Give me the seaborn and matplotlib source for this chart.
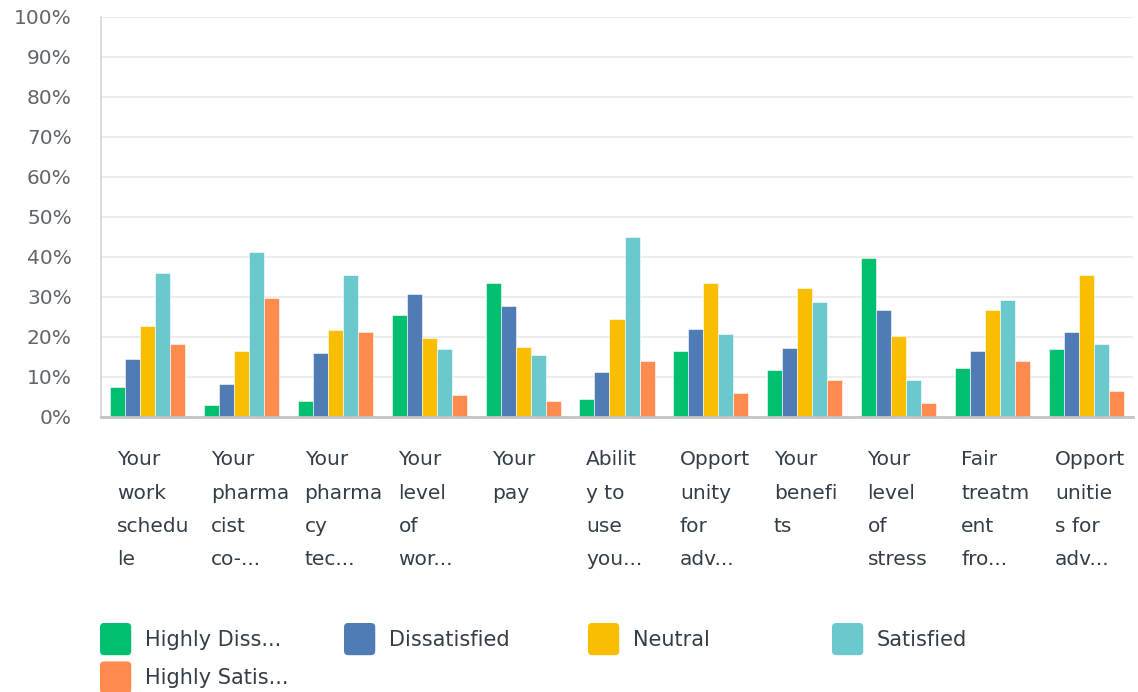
import numpy as np
import pandas as pd
import matplotlib
matplotlib.use("Agg")
import matplotlib.pyplot as plt
import matplotlib.patches as mpatches
from matplotlib.legend_handler import HandlerPatch
from matplotlib.ticker import PercentFormatter
import seaborn as sns

# данные (проценты)
questions = [
    "Your work schedule", "Your pharmacist co-workers", "Your pharmacy technicians",
    "Your level of workload", "Your pay", "Ability to use your skills",
    "Opportunity for advancement", "Your benefits", "Your level of stress",
    "Fair treatment from management", "Opportunities for advancement training",
]
tick_labels = [
    "Your\nwork\nschedu\nle", "Your\npharma\ncist\nco-...", "Your\npharma\ncy\ntec...",
    "Your\nlevel\nof\nwor...", "Your\npay", "Abilit\ny to\nuse\nyou...",
    "Opport\nunity\nfor\nadv...", "Your\nbenefi\nts", "Your\nlevel\nof\nstress",
    "Fair\ntreatm\nent\nfro...", "Opport\nunitie\ns for\nadv...",
]
levels = ["Highly Diss...", "Dissatisfied", "Neutral", "Satisfied", "Highly Satis..."]
colors = ["#00BF6F", "#507CB6", "#F9BE00", "#6BC8CD", "#FF8B4F"]

highly_dissatisfied = [7.6, 2.9, 3.9, 25.5, 33.4, 4.4, 16.6, 11.8, 39.8, 12.3, 17.1]
dissatisfied = [14.4, 8.3, 16.0, 30.8, 27.7, 11.3, 21.9, 17.2, 26.7, 16.6, 21.3]
neutral = [22.8, 16.6, 21.8, 19.8, 17.6, 24.5, 33.4, 32.3, 20.3, 26.7, 35.5]
satisfied = [36.1, 41.3, 35.5, 17.1, 15.5, 45.0, 20.8, 28.7, 9.2, 29.2, 18.2]
highly_satisfied = [18.2, 29.7, 21.3, 5.6, 3.9, 13.9, 6.1, 9.2, 3.5, 13.9, 6.6]

wide = pd.DataFrame({
    "question": questions,
    levels[0]: highly_dissatisfied,
    levels[1]: dissatisfied,
    levels[2]: neutral,
    levels[3]: satisfied,
    levels[4]: highly_satisfied,
})
df = wide.melt(id_vars="question", var_name="level", value_name="pct")

sns.set_style("white")
plt.rcParams["font.family"] = ["DejaVu Sans"]

fig = plt.figure(figsize=(11.38, 6.92), dpi=100)
ax = fig.add_axes([101 / 1138, 1 - 417 / 692, 1032 / 1138, 400 / 692])

sns.barplot(
    data=df, x="question", y="pct", hue="level",
    order=questions, hue_order=levels, palette=colors,
    saturation=1, width=0.8, edgecolor="white", linewidth=0.4,
    legend=False, ax=ax,
)

ax.set_xlim(-0.5, len(questions) - 0.5)
ax.set_ylim(0, 100)
ax.set_yticks(range(0, 101, 10))
ax.yaxis.set_major_formatter(PercentFormatter(decimals=0))
ax.set_xticks(np.arange(len(questions)) - 0.33)
ax.set_xticklabels(tick_labels, ha="left", va="top", linespacing=1.95)
ax.set_xlabel("")
ax.set_ylabel("")

ax.tick_params(axis="x", length=0, pad=24, labelsize=14.5, labelcolor="#333e48")
ax.tick_params(axis="y", length=0, pad=21, labelsize=14.5, labelcolor="#5f676d")

ax.grid(axis="y", color="#ececec", linewidth=1.3)
ax.set_axisbelow(True)
for side in ["top", "right"]:
    ax.spines[side].set_visible(False)
ax.spines["left"].set_color("#d6d6d6")
ax.spines["left"].set_linewidth(1.2)
ax.spines["bottom"].set_color("#c4c4c4")
ax.spines["bottom"].set_linewidth(2)


# скруглённые квадраты в легенде
def rounded_box(legend, orig_handle, xdescent, ydescent, width, height, fontsize):
    return mpatches.FancyBboxPatch(
        (-xdescent, -ydescent), width, height,
        boxstyle="round,pad=0,rounding_size=3",
    )


handles = [mpatches.Patch(facecolor=c, edgecolor="none") for c in colors]
columns = [([0, 4], 100), ([1], 344), ([2], 588), ([3], 832)]
for idx, x0 in columns:
    fig.legend(
        [handles[i] for i in idx], [levels[i] for i in idx],
        loc="upper left", bbox_to_anchor=(x0 / 1138, 1 - 623 / 692),
        frameon=False, fontsize=15, labelcolor="#333e48",
        handlelength=1.5, handleheight=2.0, handletextpad=0.65,
        labelspacing=0.3, borderpad=0, borderaxespad=0,
        handler_map={mpatches.Patch: HandlerPatch(patch_func=rounded_box)},
    )

fig.savefig("out.png", dpi=100)
